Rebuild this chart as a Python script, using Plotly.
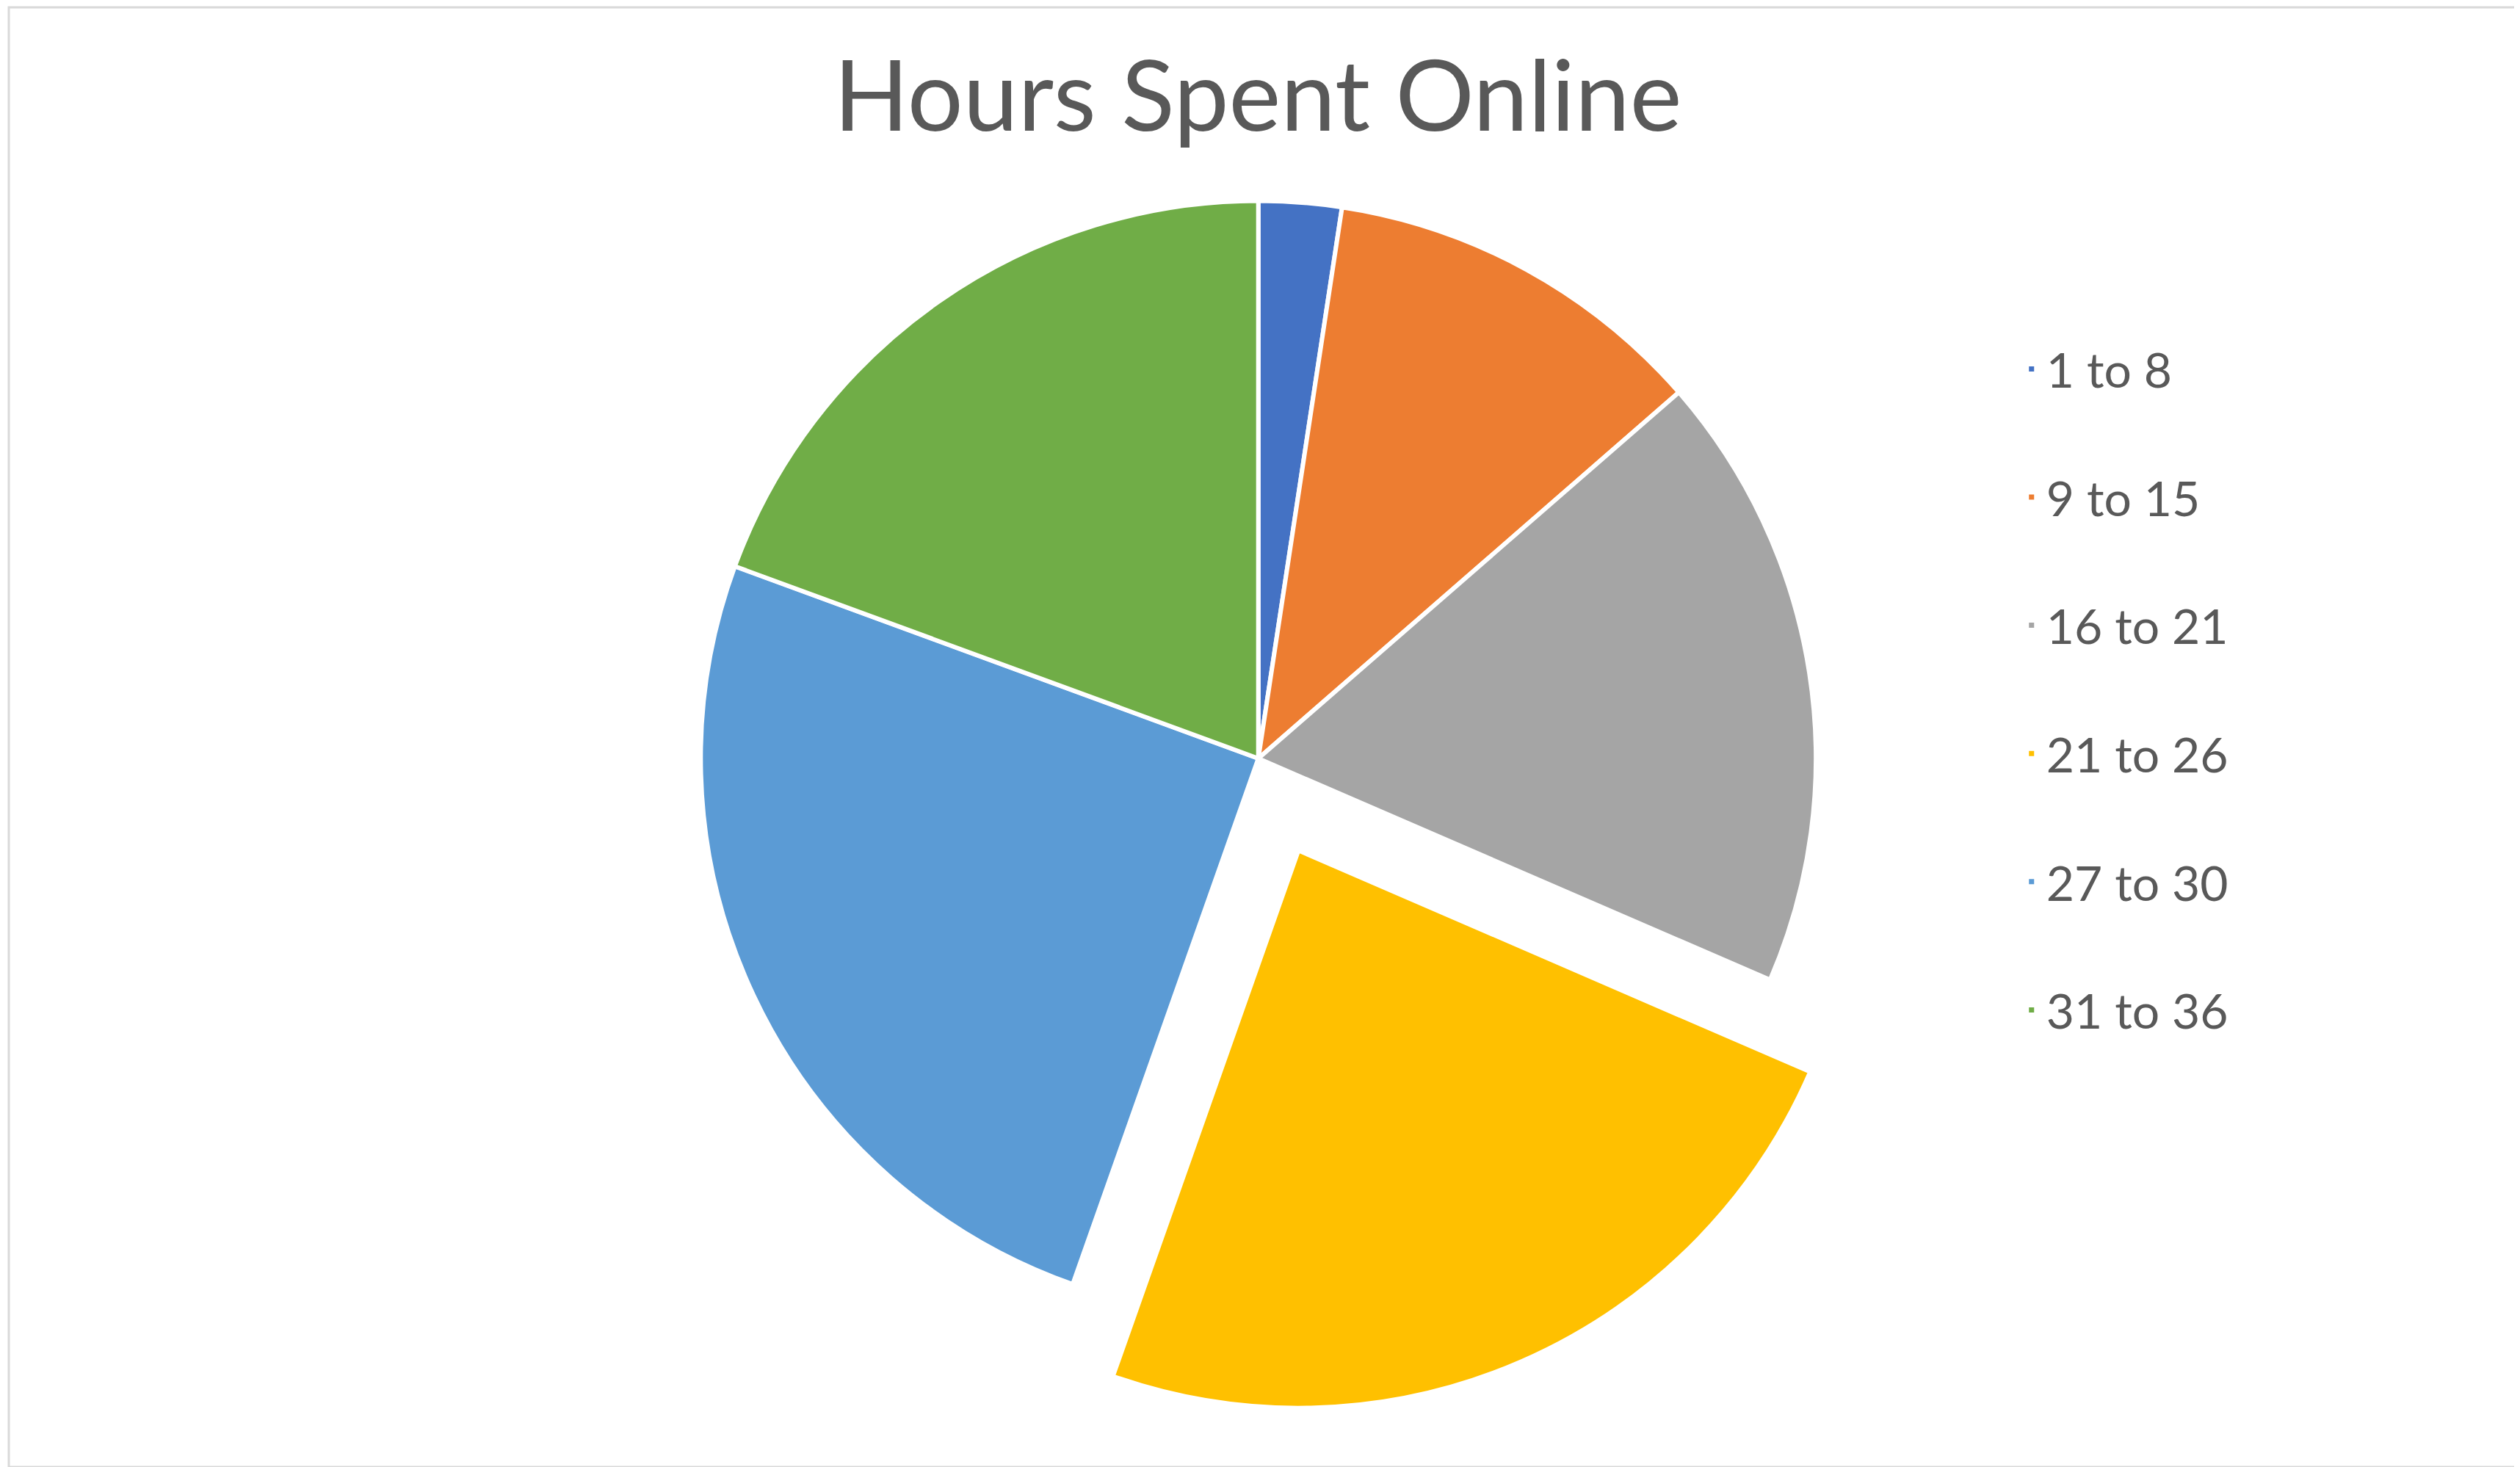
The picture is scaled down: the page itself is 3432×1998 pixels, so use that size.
import plotly.graph_objects as go

# Data
labels = ["1 to 8", "9 to 15", "16 to 21", "21 to 26", "27 to 30", "31 to 36"]
values = [2.4, 11.2, 17.9, 23.9, 25.2, 19.4]
colors = ["#4472C4", "#ED7D31", "#A5A5A5", "#FFC000", "#5B9BD5", "#70AD47"]
pulls = [0, 0, 0, 0.18, 0, 0]

W, H = 3432, 1998

# legend entries get an empty second line so the rows are spaced like the original
legend_labels = [lab + "<br> " for lab in labels]

fig = go.Figure(
    go.Pie(
        labels=legend_labels,
        values=values,
        customdata=labels,
        sort=False,
        direction="clockwise",
        rotation=0,
        pull=pulls,
        textinfo="none",
        hovertemplate="%{customdata}: %{percent}<extra></extra>",
        marker=dict(colors=colors, line=dict(color="white", width=6)),
        domain=dict(x=[0.197, 0.797], y=[0.0385, 0.9355]),
    )
)

fig.update_layout(
    width=W,
    height=H,
    margin=dict(l=0, r=0, t=0, b=0),
    paper_bgcolor="white",
    plot_bgcolor="white",
    title=dict(
        text="Hours Spent Online",
        x=0.4968,
        xanchor="center",
        y=0.9384,
        yanchor="middle",
        yref="container",
        font=dict(family="Lato", size=134, color="#595959", weight=400),
    ),
    legend=dict(
        x=0.798,
        xanchor="left",
        y=1 - 974 / H,
        yanchor="middle",
        valign="top",
        font=dict(family="Lato", size=66, color="#595959"),
        bgcolor="rgba(0,0,0,0)",
    ),
    shapes=[
        dict(
            type="rect",
            xref="paper",
            yref="paper",
            x0=4 / W,
            x1=3425 / W,
            y0=1 - 1990 / H,
            y1=1 - 2 / H,
            line=dict(color="#D9D9D9", width=3),
            fillcolor="rgba(0,0,0,0)",
            layer="below",
        )
    ],
)

fig.write_html("out.html")
